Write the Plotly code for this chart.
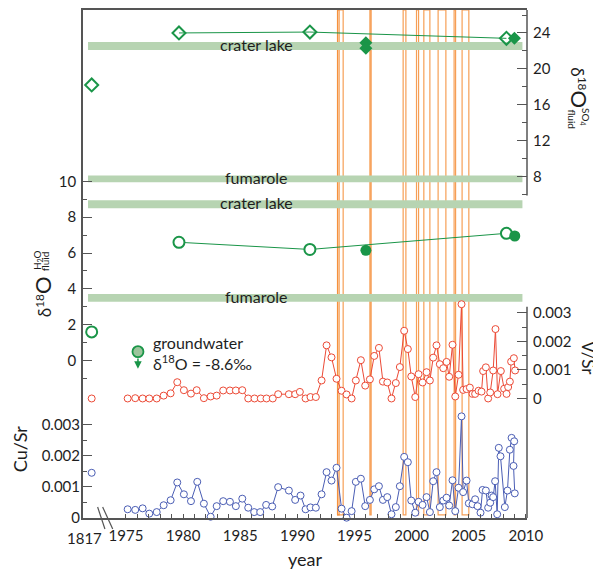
import plotly.graph_objects as go

# ---------------- data ----------------
BREAK_X = 1972.0          # plotting position used for the 1817 sample (broken axis)

# d18O sulfate (right upper axis)
so4_years_open = [1979.64, 1991.1, 2008.3]
so4_open = [24.0, 24.1, 23.4]
so4_years_fill = [1996.0, 1996.0, 2009.0]
so4_fill = [22.9, 22.3, 23.4]
so4_1817 = 18.2

# d18O water (left axis)
h2o_years_open = [1979.64, 1991.1, 2008.3]
h2o_open = [6.6, 6.2, 7.1]
h2o_years_fill = [1996.0, 2009.03]
h2o_fill = [6.15, 6.95]
h2o_1817 = 1.6

# reference bands
band_labels = ["crater lake", "fumarole"]
so4_band_lo = [22.1, 7.35]
so4_band_hi = [23.0, 8.1]
h2o_band_lo = [8.5, 3.28]
h2o_band_hi = [8.94, 3.72]

# groundwater
gw_year = 1976.05
gw_text = "groundwater<br>δ<sup>18</sup>O = -8.6‰"

# V/Sr (right lower axis)
vsr_years = [1975.15, 1975.81, 1976.46, 1977.04, 1977.69, 1978.30, 1978.91, 1979.49, 1980.07, 1980.69,
             1981.19, 1981.82, 1982.41, 1982.94, 1983.51, 1984.10, 1984.62, 1985.18, 1985.70, 1986.25,
             1986.80, 1987.30, 1987.85, 1988.32, 1989.26, 1989.81, 1990.22, 1990.72, 1991.15, 1991.62,
             1992.12, 1992.56, 1992.99, 1993.43, 1993.87, 1994.31, 1994.75, 1995.12, 1995.56, 1995.94,
             1996.35, 1996.73, 1997.14, 1997.49, 1997.87, 1998.24, 1998.62, 1998.97, 1999.35, 1999.67,
             1999.97, 2000.32, 2000.61, 2000.96, 2001.31, 2001.60, 2001.89, 2002.18, 2002.47, 2002.77,
             2003.06, 2003.29, 2003.58, 2003.82, 2004.11, 2004.37, 2004.51, 2004.81, 2005.10, 2005.33,
             2005.56, 2005.86, 2006.12, 2006.26, 2006.50, 2006.70, 2006.88, 2007.14, 2007.34, 2007.52,
             2007.81, 2008.10, 2008.31, 2008.45, 2008.60, 2008.71, 2008.95, 2009.06]
vsr_vals = [0.00000, 0.00001, 0.00000, 0.00000, 0.00000, 0.00010, 0.00018, 0.00057, 0.00029, 0.00017,
            0.00029, 0.00001, 0.00007, 0.00010, 0.00028, 0.00028, 0.00028, 0.00029, 0.00000, 0.00000,
            0.00000, 0.00000, 0.00000, 0.00015, 0.00015, 0.00015, 0.00023, 0.00000, 0.00005, 0.00005,
            0.00063, 0.00186, 0.00144, 0.00069, 0.00027, 0.00014, 0.00000, 0.00063, 0.00134, 0.00045,
            0.00067, 0.00149, 0.00177, 0.00059, 0.00056, 0.00000, 0.00054, 0.00110, 0.00237, 0.00173,
            0.00077, 0.00005, 0.00085, 0.00056, 0.00092, 0.00063, 0.00143, 0.00186, 0.00120, 0.00106,
            0.00128, 0.00076, 0.00188, 0.00007, 0.00083, 0.00330, 0.00030, 0.00033, 0.00038, 0.00016,
            0.00016, 0.00027, 0.00024, 0.00096, 0.00109, 0.00000, 0.00021, 0.00098, 0.00243, 0.00015,
            0.00096, 0.00034, 0.00016, 0.00040, 0.00059, 0.00129, 0.00141, 0.00098]
vsr_1817 = 0.0

# Cu/Sr (left lower axis)
cusr_years = [1975.15, 1975.81, 1976.46, 1977.04, 1977.69, 1978.30, 1978.91, 1979.49, 1980.07, 1980.69,
              1981.24, 1981.82, 1982.41, 1982.94, 1983.51, 1984.10, 1984.62, 1985.18, 1985.70, 1986.22,
              1986.75, 1987.27, 1987.80, 1988.32, 1989.26, 1989.81, 1990.28, 1990.72, 1991.15, 1991.62,
              1992.12, 1992.56, 1992.99, 1993.43, 1993.87, 1994.31, 1994.75, 1995.12, 1995.56, 1995.94,
              1996.35, 1996.73, 1997.14, 1997.49, 1997.87, 1998.24, 1998.62, 1998.97, 1999.35, 1999.67,
              1999.97, 2000.32, 2000.61, 2000.96, 2001.31, 2001.60, 2001.89, 2002.18, 2002.47, 2002.77,
              2003.06, 2003.29, 2003.58, 2003.82, 2004.11, 2004.37, 2004.51, 2004.81, 2005.01, 2005.33,
              2005.56, 2005.77, 2006.03, 2006.21, 2006.50, 2006.70, 2006.88, 2007.00, 2007.14, 2007.31,
              2007.49, 2007.63, 2007.78, 2008.16, 2008.39, 2008.60, 2008.75, 2008.98, 2008.92, 2009.03]
cusr_vals = [0.00028, 0.00026, 0.00031, 0.00014, 0.00019, 0.00041, 0.00057, 0.00114, 0.00076, 0.00054,
             0.00116, 0.00046, 0.00004, 0.00038, 0.00054, 0.00052, 0.00038, 0.00062, 0.00033, 0.00019,
             0.00019, 0.00042, 0.00037, 0.00099, 0.00088, 0.00058, 0.00072, 0.00028, 0.00034, 0.00033,
             0.00076, 0.00147, 0.00120, 0.00161, 0.00030, 0.00001, 0.00022, 0.00116, 0.00126, 0.00038,
             0.00058, 0.00092, 0.00102, 0.00058, 0.00067, 0.00012, 0.00035, 0.00102, 0.00196, 0.00179,
             0.00056, 0.00017, 0.00052, 0.00042, 0.00067, 0.00019, 0.00118, 0.00147, 0.00035, 0.00056,
             0.00065, 0.00040, 0.00121, 0.00022, 0.00097, 0.00326, 0.00083, 0.00120, 0.00047, 0.00044,
             0.00060, 0.00038, 0.00017, 0.00090, 0.00088, 0.00033, 0.00049, 0.00072, 0.00067, 0.00118,
             0.00012, 0.00225, 0.00198, 0.00035, 0.00088, 0.00219, 0.00257, 0.00246, 0.00167, 0.00079]
cusr_1817 = 0.00145

# eruption periods (orange boxes)
erupt_start = [1993.52, 1993.52, 1996.35, 1999.26, 2000.43, 2001.07, 2002.32, 2003.72, 2004.42]
erupt_end = [1994.01, 1993.66, 1996.46, 1999.50, 2000.61, 2001.60, 2003.00, 2003.85, 2005.01]

# x ticks
year_major = [1975, 1980, 1985, 1990, 1995, 2000, 2005, 2010]
year_minor = [y for y in range(1975, 2011) if y % 5 != 0]

# ---------------- style ----------------
GREEN = "#1a9548"
RED = "#ec4a36"
BLUE = "#4a5db4"
ORANGE = "rgba(244,142,56,0.85)"
BAND = "rgb(183,212,178)"
AXC = "#555555"
TXT = "#1e1e1e"
FONT = "Lato"

fig = go.Figure()

# green: SO4
fig.add_trace(go.Scatter(x=so4_years_open, y=so4_open, yaxis="y3", mode="lines+markers",
                         line=dict(color=GREEN, width=1),
                         marker=dict(symbol="diamond-open", size=10, color=GREEN, line=dict(width=2)),
                         cliponaxis=False))
fig.add_trace(go.Scatter(x=[BREAK_X], y=[so4_1817], yaxis="y3", mode="markers",
                         marker=dict(symbol="diamond-open", size=10, color=GREEN, line=dict(width=2))))
fig.add_trace(go.Scatter(x=so4_years_fill, y=so4_fill, yaxis="y3", mode="markers",
                         marker=dict(symbol="diamond", size=10, color=GREEN, line=dict(width=0)),
                         cliponaxis=False))

# green: H2O
fig.add_trace(go.Scatter(x=h2o_years_open, y=h2o_open, yaxis="y", mode="lines+markers",
                         line=dict(color=GREEN, width=1),
                         marker=dict(symbol="circle", size=11, color="white", line=dict(width=2, color=GREEN))))
fig.add_trace(go.Scatter(x=[BREAK_X], y=[h2o_1817], yaxis="y", mode="markers",
                         marker=dict(symbol="circle", size=11, color="white", line=dict(width=2, color=GREEN))))
fig.add_trace(go.Scatter(x=h2o_years_fill, y=h2o_fill, yaxis="y", mode="markers",
                         marker=dict(symbol="circle", size=11, color=GREEN, line=dict(width=0))))

# groundwater symbol
fig.add_trace(go.Scatter(x=[gw_year], y=[0.5], yaxis="y", mode="markers",
                         marker=dict(symbol="circle", size=11, color="#9cc59c", line=dict(width=1.8, color=GREEN))))

# V/Sr
fig.add_trace(go.Scatter(x=vsr_years, y=vsr_vals, yaxis="y4", mode="lines+markers",
                         line=dict(color=RED, width=1),
                         marker=dict(symbol="circle", size=7, color="white", line=dict(width=1, color=RED)),
                         cliponaxis=False))
fig.add_trace(go.Scatter(x=[BREAK_X], y=[vsr_1817], yaxis="y4", mode="markers",
                         marker=dict(symbol="circle", size=7, color="white", line=dict(width=1, color=RED))))

# Cu/Sr
fig.add_trace(go.Scatter(x=cusr_years, y=cusr_vals, yaxis="y2", mode="lines+markers",
                         line=dict(color=BLUE, width=1),
                         marker=dict(symbol="circle", size=7, color="white", line=dict(width=1, color=BLUE)),
                         cliponaxis=False))
fig.add_trace(go.Scatter(x=[BREAK_X], y=[cusr_1817], yaxis="y2", mode="markers",
                         marker=dict(symbol="circle", size=7, color="white", line=dict(width=1, color=BLUE))))

shapes = []
# bands
for lo, hi in zip(so4_band_lo, so4_band_hi):
    shapes.append(dict(type="rect", xref="x", yref="y3", x0=1971.68, x1=2009.7, y0=lo, y1=hi,
                       fillcolor=BAND, line=dict(width=0), layer="below"))
for lo, hi in zip(h2o_band_lo, h2o_band_hi):
    shapes.append(dict(type="rect", xref="x", yref="y", x0=1971.68, x1=2009.7, y0=lo, y1=hi,
                       fillcolor=BAND, line=dict(width=0), layer="below"))
# eruption boxes
for s, e in zip(erupt_start, erupt_end):
    shapes.append(dict(type="rect", xref="x", yref="paper", x0=s, x1=e, y0=0.006, y1=1,
                       fillcolor="rgba(0,0,0,0)", line=dict(color=ORANGE, width=1.2), layer="below"))
# right axis line segments
shapes.append(dict(type="line", xref="paper", yref="paper", x0=1, x1=1, y0=0.635, y1=1,
                   line=dict(color=AXC, width=1.5)))
shapes.append(dict(type="line", xref="paper", yref="paper", x0=1, x1=1, y0=0, y1=0.416,
                   line=dict(color=AXC, width=1.5)))
# axis break marks
shapes.append(dict(type="line", xref="x", yref="paper", x0=1972.52, x1=1973.16, y0=0.0216, y1=-0.0216,
                   line=dict(color=AXC, width=1.2)))
shapes.append(dict(type="line", xref="x", yref="paper", x0=1972.96, x1=1973.84, y0=0.0216, y1=-0.0216,
                   line=dict(color=AXC, width=1.2)))

annotations = []
# band labels
for lab, lo, hi in zip(band_labels, so4_band_lo, so4_band_hi):
    annotations.append(dict(x=1986.4, y=(lo + hi) / 2 + 0.2, xref="x", yref="y3", text=lab, showarrow=False,
                            font=dict(size=16, color=TXT), xanchor="center", yanchor="middle"))
for lab, lo, hi in zip(band_labels, h2o_band_lo, h2o_band_hi):
    annotations.append(dict(x=1986.4, y=(lo + hi) / 2 + 0.1, xref="x", yref="y", text=lab, showarrow=False,
                            font=dict(size=16, color=TXT), xanchor="center", yanchor="middle"))
# groundwater arrow + text
annotations.append(dict(x=gw_year, y=-0.45, xref="x", yref="y", ax=gw_year, ay=0.2, axref="x", ayref="y",
                        text="", showarrow=True, arrowhead=2, arrowsize=1, arrowwidth=1.5, arrowcolor=GREEN))
annotations.append(dict(x=1977.2, y=0.45, xref="x", yref="y", text=gw_text, showarrow=False,
                        xanchor="left", yanchor="middle", align="left", font=dict(size=16, color=TXT)))


def title(x, y, text, size, angle):
    annotations.append(dict(x=x, y=y, xref="paper", yref="paper", showarrow=False, textangle=angle,
                            text=text, font=dict(size=size, color=TXT), xanchor="center", yanchor="middle"))


# axis titles
title(-0.092, 0.435, "δ<sup>18</sup><span style='font-size:22px'>O</span>", 17, -90)
title(-0.101, 0.508, "H<sub>2</sub>O", 10, -90)
title(-0.085, 0.504, "fluid", 10, -90)
title(1.118, 0.847, "δ<sup>18</sup><span style='font-size:22px'>O</span>", 17, 90)
title(1.132, 0.790, "SO<sub>4</sub>", 10, 90)
title(1.102, 0.786, "fluid", 10, 90)
title(1.138, 0.314, "V/Sr", 17, 90)
title(-0.14, 0.137, "Cu/Sr", 18, -90)
title(0.5, -0.081, "year", 18, 0)
annotations.append(dict(x=1971.4, y=-0.039, xref="x", yref="paper", showarrow=False,
                        text="1817", font=dict(size=15, color=TXT), xanchor="center", yanchor="middle"))

tick_common = dict(showgrid=False, zeroline=False, ticks="inside", tickcolor=AXC, tickwidth=1.3,
                   tickfont=dict(size=15, color=TXT))

# the page body has an 8px margin: the figure is sized/offset to compensate
fig.update_layout(
    width=593, height=562,
    margin=dict(l=75, r=74, t=0, b=52),
    paper_bgcolor="white", plot_bgcolor="rgba(0,0,0,0)",
    showlegend=False,
    font=dict(family=FONT, size=15, color=TXT),
    shapes=shapes, annotations=annotations,
    xaxis=dict(range=[1971.24, 2010.1], tickmode="array", tickvals=year_major,
               ticklen=4, ticklabelstandoff=3,
               minor=dict(tickmode="array", tickvals=year_minor, ticks="inside", ticklen=4, tickcolor=AXC),
               showline=True, linecolor=AXC, linewidth=1.5, mirror=True, **tick_common),
    yaxis=dict(range=[-8.778, 19.556], tickmode="array", tickvals=[0, 2, 4, 6, 8, 10], ticklen=9,
               ticklabelstandoff=2,
               minor=dict(tickmode="array", tickvals=[-1, 1, 3, 5, 7, 9], ticks="inside", ticklen=4,
                          tickcolor=AXC),
               showline=True, linecolor=AXC, linewidth=1.5, **tick_common),
    yaxis2=dict(overlaying="y", side="left", anchor="x", range=[0, 0.016294], tickmode="array",
                tickvals=[0, 0.001, 0.002, 0.003], ticktext=["0", "0.001", "0.002", "0.003"], ticklen=9,
                ticklabelstandoff=2,
                minor=dict(tickmode="array", tickvals=[0.0005, 0.0015, 0.0025], ticks="inside", ticklen=4,
                           tickcolor=AXC),
                showline=False, **tick_common),
    yaxis3=dict(overlaying="y", side="right", anchor="x", range=[-30.11, 26.56], tickmode="array",
                tickvals=[8, 12, 16, 20, 24], ticklen=10, ticklabelstandoff=5,
                minor=dict(tickmode="array", tickvals=[6, 10, 14, 18, 22, 26], ticks="inside", ticklen=5,
                           tickcolor=AXC),
                showline=False, **tick_common),
    yaxis4=dict(overlaying="y", side="right", anchor="x", range=[-0.0041856, 0.013603], tickmode="array",
                tickvals=[0, 0.001, 0.002, 0.003], ticktext=["0", "0.001", "0.002", "0.003"], ticklen=10,
                ticklabelstandoff=5,
                minor=dict(tickmode="array", tickvals=[0.0005, 0.0015, 0.0025], ticks="inside", ticklen=5,
                           tickcolor=AXC),
                showline=False, **tick_common),
)

fig.write_html("out.html")
